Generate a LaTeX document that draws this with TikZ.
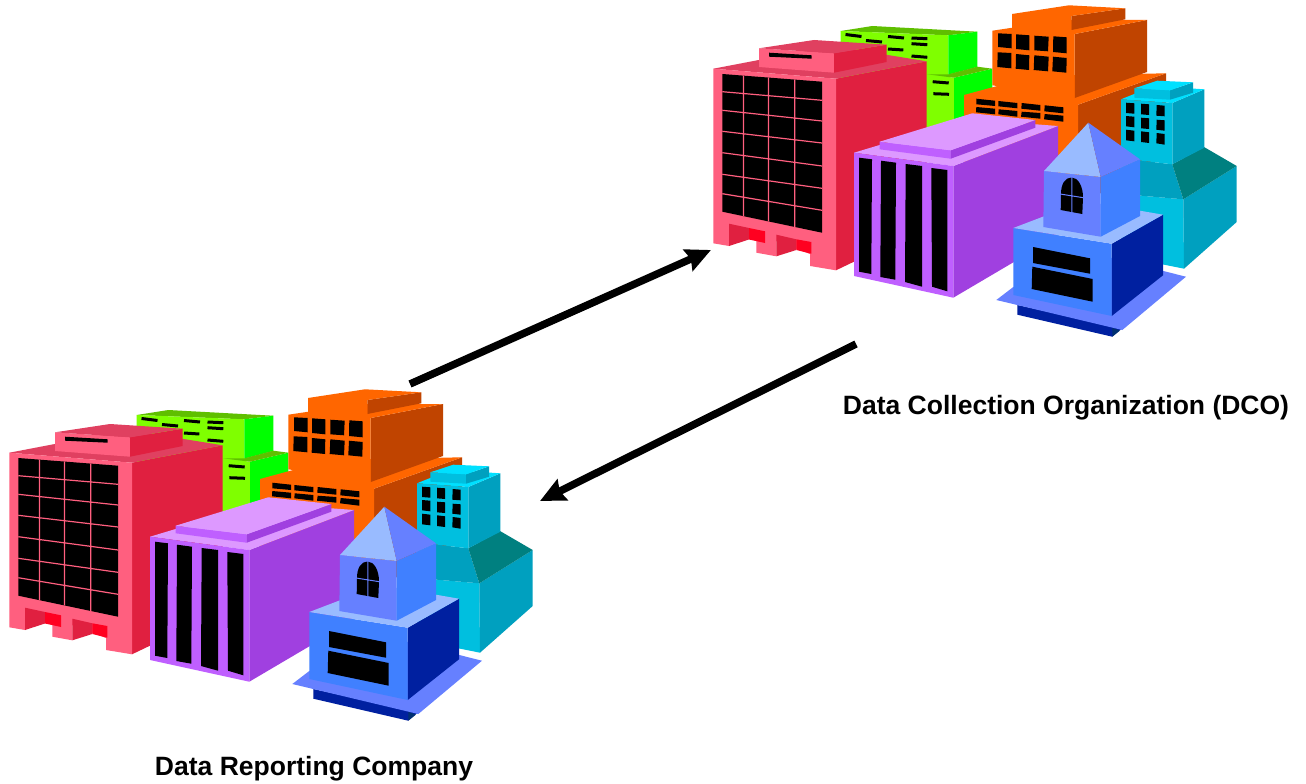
\documentclass[tikz,border=0pt]{standalone}
\usepackage{fontspec}
\setmainfont{Liberation Sans}
\usetikzlibrary{arrows.meta}
\definecolor{gfront}{HTML}{7FFF00}\definecolor{gside}{HTML}{00FF00}\definecolor{groof}{HTML}{5FBF00}
\definecolor{rfront}{HTML}{FF5F7F}\definecolor{rside}{HTML}{E02040}\definecolor{rroof}{HTML}{E04060}\definecolor{rdoor}{HTML}{FF0020}
\definecolor{ofront}{HTML}{FF6600}\definecolor{oside}{HTML}{C04400}
\definecolor{ctop}{HTML}{00E0FF}\definecolor{cfront}{HTML}{00BFDF}\definecolor{cside}{HTML}{00A0BF}\definecolor{cteal}{HTML}{008080}
\definecolor{pfront}{HTML}{BF5FFF}\definecolor{proof}{HTML}{DD99FF}\definecolor{pside}{HTML}{A040E0}
\definecolor{blight}{HTML}{99BBFF}\definecolor{bmid}{HTML}{6680FF}\definecolor{bbright}{HTML}{4080FF}\definecolor{bdark}{HTML}{0020A0}\definecolor{bdeep}{HTML}{003070}
\tikzset{slot/.style={line width=3pt,black},flowarrow/.style={line width=7.5pt,draw=black,-{Stealth[length=25pt,width=23pt,inset=3pt]}},
 caption/.style={font=\fontsize{26.5}{30}\selectfont\bfseries,inner sep=0pt,text=black}}
\newcommand{\pg}[2]{\fill[#1] #2 -- cycle;}
\newcommand{\win}[1]{\fill[black] #1 -- cycle;}
\newcommand{\cluster}{%
 % green
 \pg{groof}{(136.7,415) -- (168.3,410) -- (273.3,415.7) -- (244.3,419.3)}
 \pg{gfront}{(136.7,415) -- (244.3,419.3) -- (244.3,470) -- (136.7,470)}
 \pg{gside}{(244.3,419.3) -- (273.3,415.7) -- (273.3,451) -- (244.3,458.6)}
 \pg{gfront}{(200,458) -- (223,458.3) -- (250,461.7) -- (250,520) -- (200,520)}
 \pg{gside}{(250,461.7) -- (288.3,452.7) -- (288.3,510) -- (250,520)}
 \pg{groof}{(223,458.3) -- (244.3,458.3) -- (273.3,450.7) -- (288.3,452.7) -- (250,461.7)}
 \draw[slot] (141.5,418.5) -- (157.5,420.5) (162,424.5) -- (178,426) (184,420.5) -- (200,422)
  (207.5,422) -- (223.3,422.7) (207.5,427.7) -- (223.3,428.7) (184,433) -- (199.3,434)
  (207.5,440) -- (223.3,441.3) (228.7,465.7) -- (244.7,467) (229.3,477.7) -- (245,478.3);
 % red
 \pg{rside}{(132,462.7) -- (222.7,445.3) -- (222.7,610.8) -- (132,654.3)}
 \pg{rroof}{(9.3,452.7) -- (128,430) -- (222.7,445.3) -- (132,462.7)}
 \pg{rfront}{(9.3,452.7) -- (132,462.7) -- (132,654.3) -- (106,650) -- (106,638) -- (72.3,625) -- (72.3,640.3) -- (52.3,636.7) -- (52.3,622) -- (25,615) -- (25,630) -- (9.3,627.3)}
 \pg{rside}{(25,607.7) -- (45,612) -- (45,623.5) -- (25,630)}
 \pg{rdoor}{(45,612) -- (61,615.3) -- (61,627) -- (45,623.5)}
 \pg{rside}{(72.3,618.7) -- (92.3,623.3) -- (92.3,634) -- (72.3,640.3)}
 \pg{rdoor}{(92.3,623.3) -- (107.3,626) -- (107.3,637.7) -- (92.3,634)}
 \pg{rfront}{(55,432.3) -- (130,437.3) -- (130,456.7) -- (55,451)}
 \pg{rside}{(130,437.3) -- (182.7,428.7) -- (182.7,446) -- (130,456.7)}
 \pg{rroof}{(55,432.3) -- (110,424) -- (182.7,428.7) -- (130,437.3)}
 \win{(65,436.7) -- (107.7,439.3) -- (107.7,442.7) -- (65,440.7)}
 \win{(18.3,458) -- (118,465.7) -- (118,616.7) -- (18.3,595.7)}
 \draw[rfront,line width=1.2pt] (39.5,459.6) -- (39.5,600.2) (64.5,461.5) -- (64.5,605.4) (90.7,463.6) -- (90.7,611)
  (18.3,475.7) -- (118,484.3) (18.3,494.3) -- (118,505) (18.3,515.3) -- (118,527)
  (18.3,536.7) -- (118,550) (18.3,558.3) -- (118,572.3) (18.3,577.7) -- (118,594.3);
 % orange
 \pg{oside}{(374,488.7) -- (462,457.3) -- (462,540) -- (374,590)}
 \pg{ofront}{(260,479) -- (330,460) -- (462,457.3) -- (374,488.7) -- (374,590) -- (260,590)}
 \pg{oside}{(370.7,418) -- (443,404) -- (443,456) -- (370.7,482)}
 \pg{ofront}{(288.3,414.7) -- (360,404) -- (443,404) -- (370.7,418) -- (370.7,482) -- (288.3,469.3)}
 \pg{oside}{(367.3,400) -- (421.3,392.3) -- (421.3,403.3) -- (367.3,414)}
 \pg{ofront}{(308,398) -- (365,389.3) -- (421.3,392.3) -- (367.3,400) -- (367.3,414) -- (308,412.3)}
 \win{(294,417.3) -- (307.7,418) -- (307.7,432.3) -- (294,431)}
 \win{(312,418.3) -- (325.3,419.3) -- (325.3,434.3) -- (312,433)}
 \win{(330.3,419.7) -- (344.7,420.7) -- (344,435.3) -- (330.3,434.3)}
 \win{(349.3,420.3) -- (362.7,421.3) -- (362.7,437.3) -- (349,436)}
 \win{(293.7,436.3) -- (307.3,437) -- (307.3,452.3) -- (293.3,451)}
 \win{(312,438) -- (325.3,439.3) -- (325,454) -- (311.7,452.7)}
 \win{(330.3,439.3) -- (344.7,440.7) -- (344,455.3) -- (329.7,454)}
 \win{(349,440.7) -- (362.7,442) -- (362.3,456.7) -- (348.3,455.3)}
 \win{(272.3,482.7) -- (291,484.7) -- (291,490) -- (272.3,488.3)}
 \win{(294.3,485) -- (313.3,487) -- (313.3,492.3) -- (294.3,490.3)}
 \win{(317.7,487) -- (336.3,489) -- (336.3,494.7) -- (317.3,492.7)}
 \win{(340.7,489.3) -- (359.3,491.3) -- (359.3,497.3) -- (340.3,495.3)}
 \win{(272.3,491) -- (291,492.7) -- (291,498.3) -- (272,496.3)}
 \win{(294.7,493.3) -- (313.3,495) -- (313.3,500.7) -- (294.3,498.3)}
 \win{(317.7,495.7) -- (336.3,497) -- (336.3,502.7) -- (317,500.7)}
 \win{(340.7,498) -- (359.3,499.7) -- (359.3,505.7) -- (340,503.3)}
 % cyan
 \pg{cfront}{(417,578) -- (479.3,583.3) -- (480,652.7) -- (417,640)}
 \pg{cside}{(479.3,583.3) -- (532.7,550) -- (532.7,606) -- (480,652.7)}
 \pg{cside}{(417,542.3) -- (468.3,548.3) -- (479.3,583.3) -- (417,578)}
 \pg{cteal}{(468.3,548.3) -- (500,531) -- (532.7,550) -- (479.3,583.3)}
 \pg{cside}{(468.3,487) -- (500.3,473.3) -- (500.3,531.7) -- (468.3,548.3)}
 \pg{ctop}{(417,483.3) -- (450,470) -- (500.3,473.3) -- (468.3,487)}
 \pg{cfront}{(417,483.3) -- (468.3,487) -- (468.3,548.3) -- (417,542.3)}
 \pg{cfront}{(430.3,472.3) -- (466,474.3) -- (466,483.7) -- (430.3,481.7)}
 \pg{cside}{(466,474.3) -- (489,466.3) -- (489,476.7) -- (466,483.7)}
 \pg{ctop}{(430.3,472.3) -- (453.3,464.7) -- (489,466.3) -- (466,474.3)}
 \win{(422,486.7) -- (430.3,487.3) -- (430.3,497.7) -- (422,497)}
 \win{(437,487.7) -- (445,488.3) -- (445,499) -- (437,498.3)}
 \win{(452.7,489) -- (460.7,489.7) -- (460.7,500.3) -- (452.3,499.7)}
 \win{(422,500) -- (430.3,500.7) -- (430.3,511.3) -- (422,510.3)}
 \win{(437,501.7) -- (445,502.3) -- (445,513) -- (437,512.3)}
 \win{(452.7,503.7) -- (460.7,504.3) -- (460.7,514.7) -- (452.3,513.7)}
 \win{(422,513.7) -- (430.3,514.7) -- (430.3,525.3) -- (422,524.3)}
 \win{(437,515.3) -- (445,516.3) -- (445,527) -- (437,526)}
 \win{(452.7,517) -- (460.7,518) -- (460.7,528.7) -- (452.3,527.3)}
 % purple
 \pg{pside}{(249.3,550) -- (354,510) -- (354,620) -- (249.3,681.7)}
 \pg{proof}{(150,536.7) -- (262,503) -- (354,510) -- (249.3,550)}
 \pg{pfront}{(150,536.7) -- (249.3,550) -- (249.3,681.7) -- (150,660)}
 \pg{pfront}{(175.7,525.7) -- (246.7,534.3) -- (246.7,542.7) -- (175.7,533.3)}
 \pg{pside}{(246.7,534.3) -- (331.3,504) -- (331.3,511.7) -- (246.7,542.7)}
 \pg{proof}{(175.7,525.7) -- (268.3,497.3) -- (331.3,504) -- (246.7,534.3)}
 \win{(155,541.7) -- (168,543.3) -- (167.3,658) -- (155,655.7)}
 \win{(177,544.7) -- (192,546.7) -- (191.3,663.7) -- (176.3,661)}
 \win{(201.7,548) -- (218,550) -- (218,670.7) -- (201,666)}
 \win{(227.3,552) -- (243.3,554) -- (243.3,675.3) -- (228,670.7)}
 % blue tower
 \pg{bdark}{(313.3,689) -- (313.3,698.7) -- (408.3,720.7) -- (418.3,712)}
 \pg{bdeep}{(408.3,712) -- (408.3,720.7) -- (416,714.5)}
 \pg{bmid}{(292.3,684) -- (309.3,671) -- (400,640) -- (459.3,655) -- (482,660.7) -- (418.3,714)}
 \pg{bdark}{(407.7,627.7) -- (459,598.7) -- (459,659.3) -- (407.7,700)}
 \pg{bbright}{(309.3,612) -- (407.7,627.7) -- (407.7,700) -- (309.3,679)}
 \pg{blight}{(309.3,612) -- (380,585) -- (459,598.7) -- (407.7,627.7)}
 \win{(329,631) -- (386,642.3) -- (386,657.7) -- (329,647)}
 \win{(328.3,650.7) -- (388.7,663) -- (388.7,685.7) -- (327.7,673)}
 \pg{bmid}{(340,555) -- (396.7,561) -- (396.7,620.7) -- (339.3,611)}
 \pg{bbright}{(396.7,561) -- (436,543.3) -- (436,600) -- (396.7,620.7)}
 \pg{blight}{(340,555) -- (384.3,506.7) -- (396.7,561)}
 \pg{bmid}{(384.3,506.7) -- (436,543.3) -- (396.7,561)}
 \fill[black] (356.7,594) -- (357,578) .. controls (357,568) and (361,561.5) .. (367.5,561.5) .. controls (374,561.5) and (379,570) .. (379,581.5) -- (378.3,598) -- cycle;
 \draw[bmid,line width=1pt] (367.8,560) -- (367.8,598) (356,578) -- (380,581.8);
}
\begin{document}
\begin{tikzpicture}[x=1pt,y=-1pt]
\useasboundingbox (0,0) rectangle (1306,784);
\fill[white] (0,0) rectangle (1306,784);
\cluster
\begin{scope}[shift={(704,-384)}]
\cluster
\end{scope}
\coordinate (upstart) at (410,384);
\coordinate (upend) at (711,250);
\coordinate (downstart) at (856,344);
\coordinate (downend) at (540,501);
\draw[flowarrow] (upstart) -- (upend);
\draw[flowarrow] (downstart) -- (downend);
\node[caption] (dco) at (1066,407.5) {Data Collection Organization (DCO)};
\node[caption] (drc) at (314,768.5) {Data Reporting Company};
\end{tikzpicture}
\end{document}
